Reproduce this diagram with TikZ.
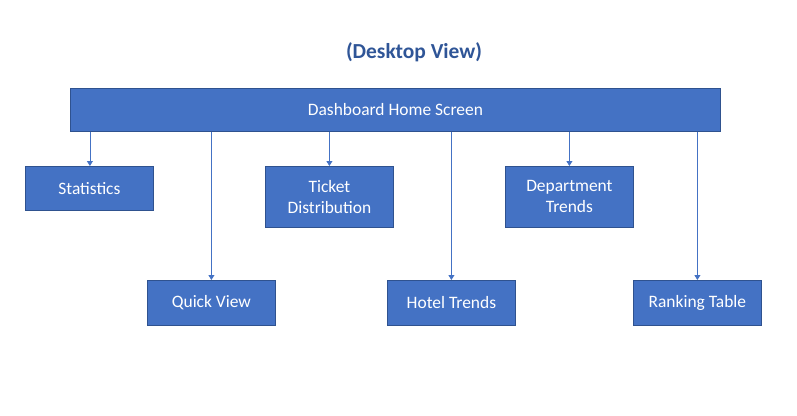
\documentclass[tikz,border=0pt]{standalone}
\usepackage{fontspec}
\setmainfont{Carlito}
\usetikzlibrary{arrows.meta}
\definecolor{boxfill}{HTML}{4472C4}
\definecolor{boxline}{HTML}{2F528F}
\definecolor{titleblue}{HTML}{2F5597}
\tikzset{
  boxnode/.style={draw=boxline, line width=0.8bp, fill=boxfill, text=white, align=center,
    font=\fontsize{17.5}{21}\selectfont, inner sep=0pt, anchor=north west},
  conn/.style={draw=boxfill, line width=0.8bp, -{Triangle[width=6bp,length=5bp]}}
}
\begin{document}
\begin{tikzpicture}[x=1bp,y=-1bp]
\useasboundingbox (0,0) rectangle (797,415);
\node[font=\fontsize{21.5}{25}\selectfont\bfseries, text=titleblue] (title) at (414,52) {(Desktop View)};
\node[boxnode, minimum width=650bp, minimum height=43bp] (home) at (70,88) {Dashboard Home Screen};
\node[boxnode, minimum width=128bp, minimum height=44bp] (stat) at (25,166) {Statistics};
\node[boxnode, minimum width=128bp, minimum height=61bp] (ticket) at (265,166) {Ticket\\Distribution};
\node[boxnode, minimum width=128bp, minimum height=61bp] (dept) at (505,166) {Department\\Trends};
\node[boxnode, minimum width=128bp, minimum height=45bp] (quick) at (147,280) {Quick View};
\node[boxnode, minimum width=128bp, minimum height=45bp] (hotel) at (387,280) {Hotel Trends};
\node[boxnode, minimum width=128bp, minimum height=45bp] (rank) at (633,280) {Ranking Table};
\draw[conn] (home.south -| stat.north) ++(0.5,0) coordinate (s1) -- (s1 |- stat.north);
\draw[conn] (home.south -| quick.north) -- (quick.north);
\draw[conn] (home.south -| ticket.north) -- (ticket.north);
\draw[conn] (home.south -| hotel.north) -- (hotel.north);
\draw[conn] (home.south -| dept.north) -- (dept.north);
\draw[conn] (home.south -| rank.north) -- (rank.north);
\end{tikzpicture}
\end{document}
